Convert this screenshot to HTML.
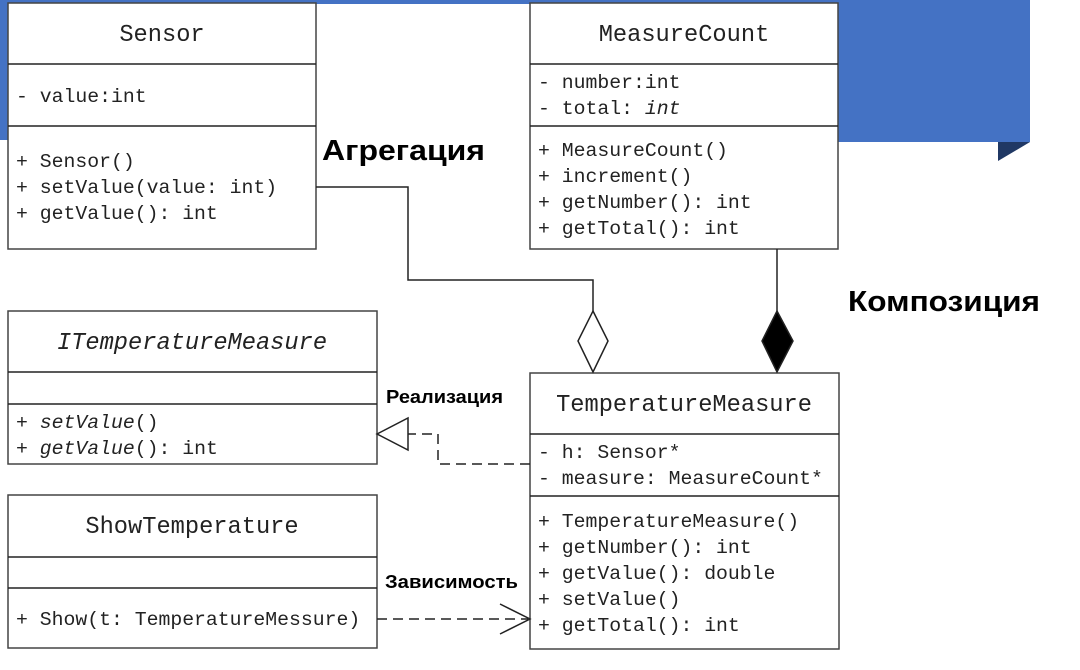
<!DOCTYPE html>
<html><head><meta charset="utf-8"><style>
html,body{margin:0;padding:0;background:#fff;width:1080px;height:670px;overflow:hidden}
svg{display:block}
.m{font-family:"Liberation Mono",monospace;font-size:19.8px;fill:#222}
.t{font-family:"Liberation Mono",monospace;font-size:23.7px;fill:#222}
.b{font-family:"Liberation Sans",sans-serif;font-weight:bold;fill:#000}
</style></head><body>
<svg width="1080" height="670" xmlns="http://www.w3.org/2000/svg">
<rect x="0" y="0" width="1030" height="4" fill="#4472c4"/>
<rect x="0" y="0" width="10" height="140" fill="#4472c4"/>
<rect x="838" y="0" width="192" height="142" fill="#4472c4"/>
<polygon points="998,142 1030,142 998,161" fill="#203864"/>
<g fill="#fff" stroke="#444" stroke-width="1.5">
<rect x="8" y="3" width="308" height="246"/>
<rect x="530" y="3" width="308" height="246"/>
<rect x="8" y="311" width="369" height="153"/>
<rect x="8" y="495" width="369" height="153"/>
<rect x="530" y="373" width="309" height="276"/>
</g>
<g stroke="#222" stroke-width="1.5">
<line x1="8" y1="64" x2="316" y2="64"/><line x1="8" y1="126" x2="316" y2="126"/>
<line x1="530" y1="64" x2="838" y2="64"/><line x1="530" y1="126" x2="838" y2="126"/>
<line x1="8" y1="372" x2="377" y2="372"/><line x1="8" y1="404" x2="377" y2="404"/>
<line x1="8" y1="557" x2="377" y2="557"/><line x1="8" y1="588" x2="377" y2="588"/>
<line x1="530" y1="434" x2="839" y2="434"/><line x1="530" y1="496" x2="839" y2="496"/>
</g>
<text class="t" x="162" y="41" text-anchor="middle">Sensor</text>
<text class="m" x="16" y="102">- value:int</text>
<text class="m" x="16" y="167">+ Sensor()</text>
<text class="m" x="16" y="193">+ setValue(value: int)</text>
<text class="m" x="16" y="219">+ getValue(): int</text>
<text class="t" x="684" y="41" text-anchor="middle">MeasureCount</text>
<text class="m" x="538" y="88">- number:int</text>
<text class="m" x="538" y="114">- total: <tspan font-style="italic">int</tspan></text>
<text class="m" x="538" y="156">+ MeasureCount()</text>
<text class="m" x="538" y="182">+ increment()</text>
<text class="m" x="538" y="208">+ getNumber(): int</text>
<text class="m" x="538" y="234">+ getTotal(): int</text>
<text class="t" x="192" y="349" text-anchor="middle" font-style="italic">ITemperatureMeasure</text>
<text class="m" x="16" y="428">+ <tspan font-style="italic">setValue</tspan>()</text>
<text class="m" x="16" y="454">+ <tspan font-style="italic">getValue</tspan>(): int</text>
<text class="t" x="192" y="533" text-anchor="middle">ShowTemperature</text>
<text class="m" x="16" y="625">+ Show(t: TemperatureMessure)</text>
<text class="t" x="684" y="411" text-anchor="middle">TemperatureMeasure</text>
<text class="m" x="538" y="458">- h: Sensor*</text>
<text class="m" x="538" y="484">- measure: MeasureCount*</text>
<text class="m" x="538" y="527">+ TemperatureMeasure()</text>
<text class="m" x="538" y="553">+ getNumber(): int</text>
<text class="m" x="538" y="579">+ getValue(): double</text>
<text class="m" x="538" y="605">+ setValue()</text>
<text class="m" x="538" y="631">+ getTotal(): int</text>
<g fill="none" stroke="#222" stroke-width="1.5">
<polyline points="316,187 408,187 408,280 593,280 593,311"/>
<polygon points="593,311 608,341 593,372 578,341" fill="#fff"/>
<line x1="777" y1="249" x2="777" y2="311"/>
<polygon points="777,311 793,341 777,372 762,341" fill="#000"/>
<polyline points="530,464 438,464 438,434 408,434" stroke-dasharray="10,6"/>
<polygon points="377,434 408,418 408,450" fill="#fff"/>
<line x1="377" y1="619" x2="528" y2="619" stroke-dasharray="10,6"/>
<polyline points="500,604 530,619 500,634"/>
</g>
<text class="b" x="322" y="160" font-size="29" textLength="163" lengthAdjust="spacingAndGlyphs">Агрегация</text>
<text class="b" x="848" y="311" font-size="29" textLength="192" lengthAdjust="spacingAndGlyphs">Композиция</text>
<text class="b" x="386" y="403" font-size="18" textLength="117" lengthAdjust="spacingAndGlyphs">Реализация</text>
<text class="b" x="385" y="588" font-size="18" textLength="133" lengthAdjust="spacingAndGlyphs">Зависимость</text>
</svg>
</body></html>
